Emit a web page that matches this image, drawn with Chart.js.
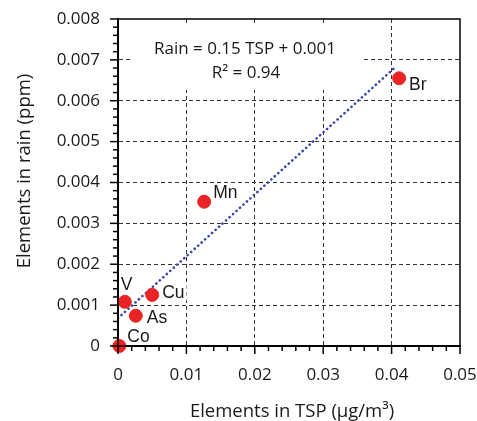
<!DOCTYPE html>
<html>
<head>
<meta charset="utf-8">
<script src="https://cdn.jsdelivr.net/npm/chart.js@4.4.1/dist/chart.umd.min.js"></script>
<style>
  html, body { margin: 0; padding: 0; background: #fff; }
</style>
</head>
<body>
<canvas id="rainChart" width="477" height="421"></canvas>
<script>

/******************************************************************
DATA
******************************************************************/

var elements   = ["Co", "V", "As", "Cu", "Mn", "Br"];
var tspValues  = [0.0002, 0.0010, 0.0026, 0.0050, 0.0126, 0.0411];
var rainValues = [0.0000, 0.00108, 0.00074, 0.00125, 0.00353, 0.00655];

// ends of the dotted fit line
var fitTsp  = [0, 0.0404];
var fitRain = [0.00068, 0.0068];

var xTickLabels = ["0", "0.01", "0.02", "0.03", "0.04", "0.05"];
var yTickLabels = ["0", "0.001", "0.002", "0.003", "0.004", "0.005", "0.006", "0.007", "0.008"];

var equationLines = ["Rain = 0.15 TSP + 0.001", "R\u00B2 = 0.94"];
var xTitle = "Elements in TSP (\u03BCg/m\u00B3)";
var yTitle = "Elements in rain (ppm)";

/******************************************************************
STYLE
******************************************************************/

var X_MAJOR = 0.01, Y_MAJOR = 0.001;
var FONT = '"Open Sans", "DejaVu Sans", sans-serif';
// label offset from its point: [left edge dx, middle dy]
var labelOffsets = { Co: [8, -9], V: [-4, -17], As: [11, 2], Cu: [10, -2], Mn: [9, -9], Br: [10, 7] };

function isMajor(v, step) {
  var r = v / step;
  return Math.abs(r - Math.round(r)) < 1e-6;
}

function gridColor(step, max) {
  return function (c) {
    if (!c.tick) return 'rgba(0,0,0,0)';
    var v = c.tick.value;
    return (isMajor(v, step) && v > 1e-9 && v < max - 1e-9) ? '#333' : 'rgba(0,0,0,0)';
  };
}

var points = tspValues.map(function (x, i) { return { x: x, y: rainValues[i] }; });
var fitLine = fitTsp.map(function (x, i) { return { x: x, y: fitRain[i] }; });

/******************************************************************
DECORATION PLUGIN
******************************************************************/

var decor = {
  id: 'decor',
  beforeDatasetsDraw: function (chart) {
    var ctx = chart.ctx, a = chart.chartArea;
    ctx.save();

    // equation box hides grid behind it
    ctx.fillStyle = '#fff';
    ctx.fillRect(a.left + 12, a.top + 6, 233, 65);
    ctx.fillStyle = '#1a1a1a';
    ctx.font = '17px ' + FONT;
    ctx.textAlign = 'center';
    ctx.textBaseline = 'middle';
    ctx.fillText(equationLines[0], 245, 49);
    ctx.fillText(equationLines[1], 246, 73);

    // element labels
    var meta = chart.getDatasetMeta(0);
    ctx.font = '17.5px "Liberation Sans", Arial, sans-serif';
    ctx.textAlign = 'left';
    meta.data.forEach(function (pt, i) {
      var name = elements[i];
      var off = labelOffsets[name];
      var w = ctx.measureText(name).width;
      var x = pt.x + off[0], y = pt.y + off[1];
      ctx.fillStyle = '#fff';
      ctx.fillRect(x - 2, y - 8, w + 4, 16);
      ctx.fillStyle = '#1a1a1a';
      ctx.fillText(name, x, y);
    });
    ctx.restore();
  },
  afterDraw: function (chart) {
    var ctx = chart.ctx, a = chart.chartArea;
    ctx.save();

    // frame
    ctx.strokeStyle = '#000';
    ctx.lineWidth = 1.5;
    ctx.strokeRect(a.left, a.top, a.right - a.left, a.bottom - a.top);

    // tick marks, major and minor
    var sx = chart.scales.x, sy = chart.scales.y;
    sx.ticks.forEach(function (t) {
      var p = sx.getPixelForValue(t.value);
      var len = isMajor(t.value, X_MAJOR) ? 8 : 5;
      ctx.beginPath();
      ctx.moveTo(p, a.bottom);
      ctx.lineTo(p, a.bottom + len);
      ctx.stroke();
    });
    sy.ticks.forEach(function (t) {
      var p = sy.getPixelForValue(t.value);
      var len = isMajor(t.value, Y_MAJOR) ? 8 : 5;
      ctx.beginPath();
      ctx.moveTo(a.left - len, p);
      ctx.lineTo(a.left, p);
      ctx.stroke();
    });

    // axis titles
    ctx.fillStyle = '#1a1a1a';
    ctx.font = '18.5px ' + FONT;
    ctx.textAlign = 'center';
    ctx.textBaseline = 'middle';
    ctx.fillText(xTitle, 292, 412);
    ctx.translate(25, 171);
    ctx.rotate(-Math.PI / 2);
    ctx.fillText(yTitle, 0, 0);
    ctx.restore();
  }
};

/******************************************************************
CHART
******************************************************************/

var ctx = document.getElementById('rainChart').getContext('2d');
var chart = new Chart(ctx, {
  type: 'scatter',
  data: {
    datasets: [{
      label: 'Elements',
      data: points,
      backgroundColor: 'rgb(234, 36, 36)',
      borderColor: 'rgb(234, 36, 36)',
      pointRadius: 6.5,
      pointHoverRadius: 6.5,
      clip: false,
      order: 0
    }, {
      label: 'Fit',
      data: fitLine,
      showLine: true,
      borderColor: 'rgb(58, 70, 172)',
      borderWidth: 2.6,
      borderDash: [0.1, 4.6],
      borderCapStyle: 'round',
      pointRadius: 0,
      fill: false,
      order: 1
    }]
  },
  options: {
    responsive: false,
    animation: false,
    devicePixelRatio: 1,
    layout: { padding: { left: 0, right: 17, top: 19, bottom: 0 } },
    plugins: { legend: { display: false }, tooltip: { enabled: false } },
    scales: {
      x: {
        type: 'linear',
        min: 0,
        max: 0.05,
        afterFit: function (s) { s.height = 75; s.paddingLeft = 0; s.paddingRight = 0; },
        ticks: {
          stepSize: 0.002,
          autoSkip: false,
          maxRotation: 0,
          padding: 11,
          color: '#1a1a1a',
          font: { family: FONT, size: 17 },
          callback: function (v) {
            return isMajor(v, X_MAJOR) ? xTickLabels[Math.round(v / X_MAJOR)] : '';
          }
        },
        grid: { color: gridColor(X_MAJOR, 0.05), lineWidth: 1, tickLength: 8, tickColor: 'rgba(0,0,0,0)' },
        border: { display: true, color: '#000', width: 2, dash: [4, 3] }
      },
      y: {
        type: 'linear',
        min: 0,
        max: 0.008,
        afterFit: function (s) { s.width = 118; s.paddingTop = 0; s.paddingBottom = 0; },
        ticks: {
          stepSize: 0.0002,
          autoSkip: false,
          padding: 10,
          color: '#1a1a1a',
          font: { family: FONT, size: 17 },
          callback: function (v) {
            return isMajor(v, Y_MAJOR) ? yTickLabels[Math.round(v / Y_MAJOR)] : '';
          }
        },
        grid: { color: gridColor(Y_MAJOR, 0.008), lineWidth: 1, tickLength: 8, tickColor: 'rgba(0,0,0,0)' },
        border: { display: true, color: '#000', width: 2, dash: [4, 3] }
      }
    }
  },
  plugins: [decor]
});

</script>
</body>
</html>
